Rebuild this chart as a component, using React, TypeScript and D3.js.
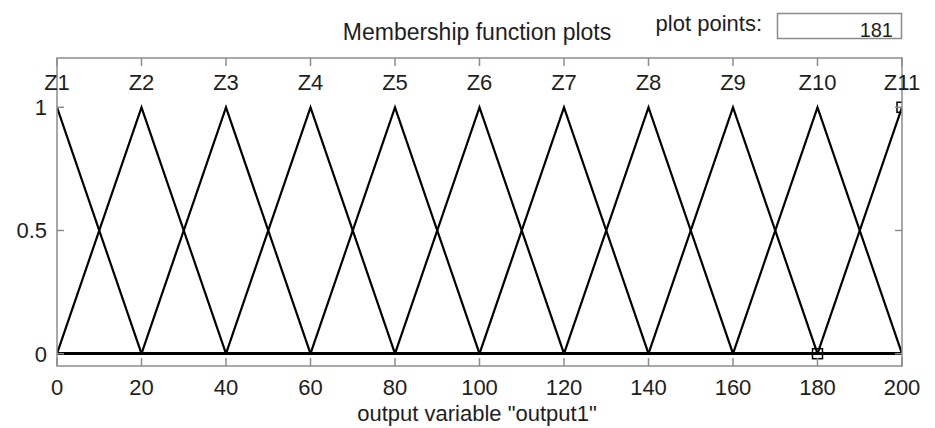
import React from "react";
import * as d3 from "d3";

// Output variable "output1": eleven triangular membership functions [a, b, c]
const mfNames = ["Z1", "Z2", "Z3", "Z4", "Z5", "Z6", "Z7", "Z8", "Z9", "Z10", "Z11"];
const mfParams: [number, number, number][] = [
  [-20, 0, 20],
  [0, 20, 40],
  [20, 40, 60],
  [40, 60, 80],
  [60, 80, 100],
  [80, 100, 120],
  [100, 120, 140],
  [120, 140, 160],
  [140, 160, 180],
  [160, 180, 200],
  [180, 200, 220],
];
const selectedMf = 10; // Z11 is the current selection
const xTicks = [0, 20, 40, 60, 80, 100, 120, 140, 160, 180, 200];
const yTicks = [0, 0.5, 1];
const yTickLabels = ["0", "0.5", "1"];
const xRange: [number, number] = [0, 200];
const yRange: [number, number] = [-0.05, 1.2];
const plotPoints = 181;
const title = "Membership function plots";
const xLabel = 'output variable "output1"';

const W = 935;
const H = 428;
const box = { left: 57, right: 902, top: 58, bottom: 366 };
const FONT = "'Liberation Sans', Arial, sans-serif";
const GRAY = "#8c8c8c";
const INK = "#1e1e1e";

function trimf(x: number, [a, b, c]: [number, number, number]) {
  return Math.max(0, Math.min((x - a) / (b - a), (c - x) / (c - b)));
}

export default function App() {
  const x = d3.scaleLinear().domain(xRange).range([box.left, box.right]);
  const y = d3.scaleLinear().domain(yRange).range([box.bottom, box.top]);

  // Each MF is drawn across the whole range: zero outside [a, c], peak at b
  const mfPath = (p: [number, number, number]) => {
    const xs = Array.from(
      new Set(
        [xRange[0], ...p, xRange[1]]
          .filter((v) => v >= xRange[0] && v <= xRange[1])
          .sort((a, b) => a - b)
      )
    );
    return d3
      .line<number>()
      .x((d) => x(d))
      .y((d) => y(trimf(d, p)))(xs) as string;
  };

  const sel = mfParams[selectedMf];
  const markers = [
    { v: sel[0], m: 0 },
    { v: sel[1], m: 1 },
    { v: sel[2], m: 0 },
  ];
  const ms = 10;

  return (
    <svg
      width={W}
      height={H}
      style={{ position: "absolute", left: 0, top: 0, background: "#fff" }}
      fontFamily={FONT}
    >
      <defs>
        <clipPath id="plotClip">
          <rect x={box.left} y={box.top} width={box.right - box.left} height={box.bottom - box.top} />
        </clipPath>
      </defs>
      <rect width={W} height={H} fill="#fff" />

      {/* header */}
      <text x={477} y={40} fontSize={23} textAnchor="middle" fill={INK}>
        {title}
      </text>
      <text x={762} y={31} fontSize={22} textAnchor="end" fill={INK}>
        plot points:
      </text>
      <rect x={777.5} y={13.5} width={124} height={25} fill="#fff" stroke={GRAY} strokeWidth={1.5} />
      <text x={893} y={37} fontSize={20} textAnchor="end" fill={INK}>
        {plotPoints}
      </text>

      {/* membership functions */}
      <g clipPath="url(#plotClip)" fill="none" stroke="#000" strokeWidth={2.2}>
        {mfParams.map((p, i) => (
          <path key={mfNames[i]} d={mfPath(p)} strokeLinejoin="miter" />
        ))}
        {markers.map((d, i) => (
          <rect
            key={i}
            x={x(d.v) - ms / 2}
            y={y(d.m) - ms / 2}
            width={ms}
            height={ms}
            strokeWidth={1.5}
          />
        ))}
      </g>

      {/* axes box and ticks */}
      <rect
        x={box.left}
        y={box.top}
        width={box.right - box.left}
        height={box.bottom - box.top}
        fill="none"
        stroke={GRAY}
        strokeWidth={1.5}
      />
      <g stroke={GRAY} strokeWidth={1.5}>
        {xTicks.map((t) => (
          <g key={t}>
            <line x1={x(t)} x2={x(t)} y1={box.bottom} y2={box.bottom - 8} />
            <line x1={x(t)} x2={x(t)} y1={box.top} y2={box.top + 8} />
          </g>
        ))}
        {yTicks.map((t) => (
          <g key={t}>
            <line x1={box.left} x2={box.left + 7} y1={y(t)} y2={y(t)} />
            <line x1={box.right} x2={box.right - 7} y1={y(t)} y2={y(t)} />
          </g>
        ))}
      </g>

      {/* tick labels */}
      <g fontSize={22} fill={INK}>
        {xTicks.map((t) => (
          <text key={t} x={x(t)} y={395} textAnchor="middle">
            {t}
          </text>
        ))}
        {yTicks.map((t, i) => (
          <text key={t} x={box.left - 10} y={y(t) + 8} textAnchor="end">
            {yTickLabels[i]}
          </text>
        ))}
      </g>

      {/* MF names above peaks */}
      <g fontSize={22} fill={INK}>
        {mfParams.map((p, i) => (
          <text key={mfNames[i]} x={x(p[1])} y={y(1.1) + 7} textAnchor="middle">
            {mfNames[i]}
          </text>
        ))}
      </g>

      <text x={477} y={421} fontSize={22} textAnchor="middle" fill={INK}>
        {xLabel}
      </text>
    </svg>
  );
}
